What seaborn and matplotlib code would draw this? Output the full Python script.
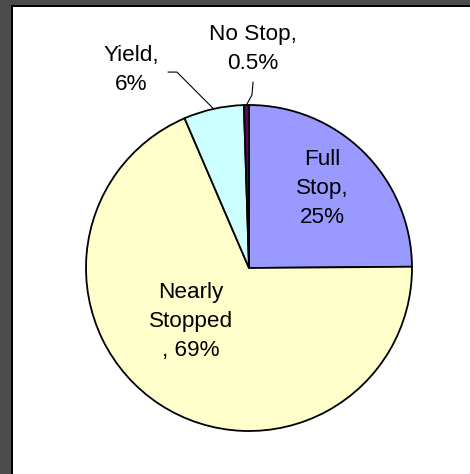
import numpy as np
import matplotlib
matplotlib.use("Agg")
import matplotlib.pyplot as plt
from matplotlib.patches import Rectangle
import seaborn as sns

# Données
categories = ["Full Stop", "Nearly Stopped", "Yield", "No Stop"]
values = [25, 69, 6, 0.5]
labels = ["Full\nStop,\n25%", "Nearly\nStopped\n, 69%", "Yield,\n6%", "No Stop,\n0.5%"]
colors = ["#9999FF", "#FFFFCC", "#CCFFFF", "#660066"]

sns.set_style("white")
plt.rcParams["font.family"] = ["Liberation Sans", "DejaVu Sans"]
plt.rcParams["text.color"] = "black"

W, H = 470, 474
fig = plt.figure(figsize=(W / 100, H / 100), dpi=100)
fig.patch.set_facecolor("#4b4b4b")

# cadre : bande sombre à gauche et en haut, trait noir, fond blanc
fig.patches.append(Rectangle((11 / W, 0), 1 - 11 / W, 1 - 5 / H, transform=fig.transFigure,
                             facecolor="black", edgecolor="none", zorder=-2))
fig.patches.append(Rectangle((13 / W, 0), 1 - 13 / W, 1 - 7 / H, transform=fig.transFigure,
                             facecolor="white", edgecolor="none", zorder=-1))

ax = fig.add_axes([0, 0, 1, 1])
ax.set_facecolor("none")

wedges, _ = ax.pie(values, colors=colors, startangle=90, counterclock=False,
                   wedgeprops=dict(edgecolor="black", linewidth=1.3))

cx, cy, r = 249, 268, 163
ax.set_aspect("auto")
ax.set_xlim(-cx / r, (W - cx) / r)
ax.set_ylim(-(H - cy) / r, cy / r)
ax.axis("off")

fs = 16.2
ls = 1.5
# étiquettes internes
ax.text(0.448, 0.49, labels[0], ha="center", va="center", fontsize=fs, linespacing=ls, color="black")
ax.text(-0.356, -0.331, labels[1], ha="center", va="center", fontsize=fs, linespacing=ls, color="black")
# étiquettes externes avec traits de rappel
ax.text(-0.724, 1.215, labels[2], ha="center", va="center", fontsize=fs, linespacing=ls, color="black")
ax.text(0.025, 1.344, labels[3], ha="center", va="center", fontsize=fs, linespacing=ls, color="black")

def edge_point(w):
    a = np.deg2rad((w.theta1 + w.theta2) / 2)
    return np.cos(a), np.sin(a)

px, py = edge_point(wedges[2])
ax.plot([-0.497, -0.442, px], [1.202, 1.202, py], color="black", lw=0.8)
px, py = edge_point(wedges[3])
ax.plot([0.025, 0.018, px], [1.141, 1.061, py], color="black", lw=0.8)

fig.savefig("out.png", dpi=100, facecolor=fig.get_facecolor())
